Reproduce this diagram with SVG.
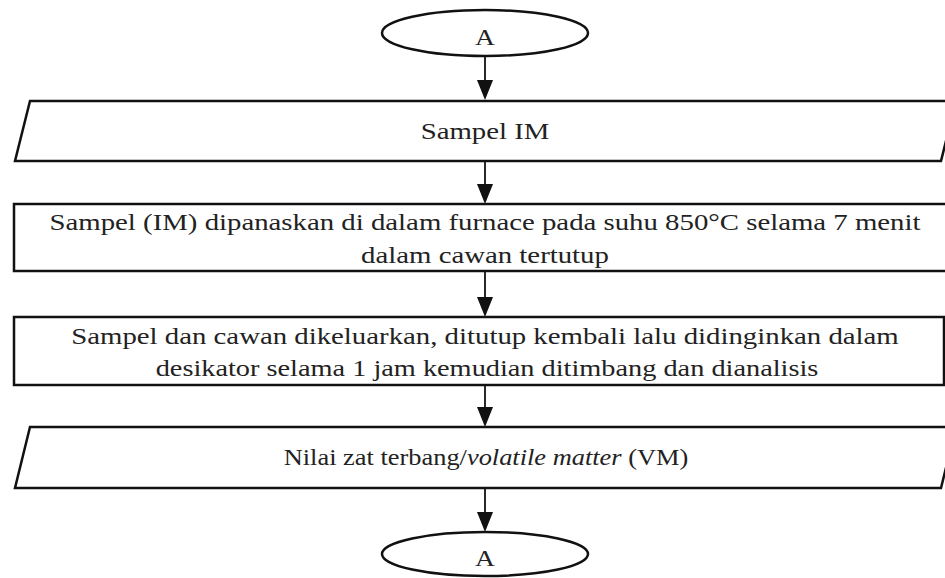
<svg xmlns="http://www.w3.org/2000/svg" width="945" height="578" viewBox="0 0 945 578">
<defs>
<style>
.s{fill:#fff;stroke:#111;stroke-width:2.5}
.t{font-family:'Liberation Serif','Times New Roman',serif;font-size:24px;fill:#222;text-anchor:middle}
.c{stroke:#111;stroke-width:1.8;fill:none}
.h{fill:#111}
</style>
</defs>
<rect width="945" height="578" fill="#fff"/>
<g id="connectors">
<line class="c" x1="485" y1="57" x2="485" y2="82"/>
<line class="c" x1="485" y1="162" x2="485" y2="186"/>
<line class="c" x1="485" y1="272" x2="485" y2="299"/>
<line class="c" x1="485" y1="386" x2="485" y2="409"/>
<line class="c" x1="485" y1="489" x2="485" y2="514"/>
<path class="h" d="M477,80 L493,80 L485,100 Z"/>
<path class="h" d="M477,184 L493,184 L485,204 Z"/>
<path class="h" d="M477,297 L493,297 L485,317 Z"/>
<path class="h" d="M477,407 L493,407 L485,427 Z"/>
<path class="h" d="M477,512 L493,512 L485,532 Z"/>
</g>
<g id="start">
<ellipse class="s" cx="485" cy="33" rx="103" ry="23"/>
<text class="t" transform="translate(485 0) scale(1.15 1)" x="0" y="45">A</text>
</g>
<g id="input">
<polygon class="s" points="30,101 956,101 941,161 15,161"/>
<text class="t" transform="translate(485 0) scale(1.2 1)" x="0" y="139">Sampel IM</text>
</g>
<g id="heat">
<rect class="s" x="14" y="204" width="945" height="67"/>
<text class="t" transform="translate(485 0) scale(1.2 1)" x="0" y="230">Sampel (IM) dipanaskan di dalam furnace pada suhu 850°C selama 7 menit</text>
<text class="t" transform="translate(485 0) scale(1.2 1)" x="0" y="263">dalam cawan tertutup</text>
</g>
<g id="cool">
<rect class="s" x="14" y="317" width="930" height="68"/>
<text class="t" transform="translate(485 0) scale(1.2 1)" x="0" y="344">Sampel dan cawan dikeluarkan, ditutup kembali lalu didinginkan dalam</text>
<text class="t" transform="translate(487 0) scale(1.18 1)" x="0" y="376">desikator selama 1 jam kemudian ditimbang dan dianalisis</text>
</g>
<g id="output">
<polygon class="s" points="30,427 956,427 941,488 15,488"/>
<text class="t" transform="translate(486 0) scale(1.1 1)" x="0" y="465">Nilai zat terbang/<tspan font-style="italic">volatile matter</tspan> (VM)</text>
</g>
<g id="end">
<ellipse class="s" cx="485" cy="554" rx="103" ry="22"/>
<text class="t" transform="translate(485 0) scale(1.15 1)" x="0" y="566">A</text>
</g>
</svg>
